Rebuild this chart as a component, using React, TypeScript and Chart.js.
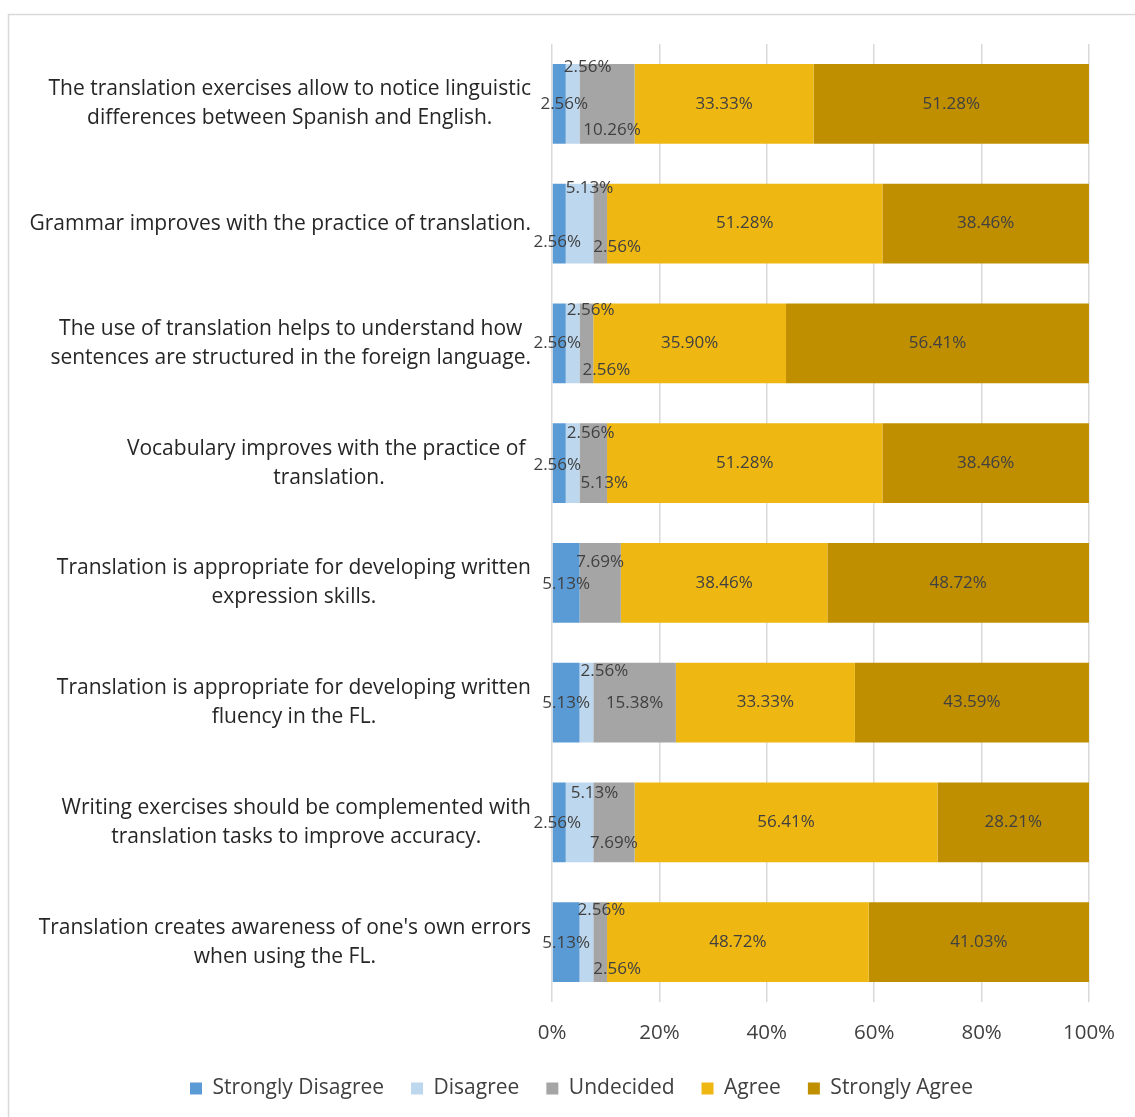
import React, { useEffect, useRef } from "react";
import { Chart, registerables } from "chart.js";

Chart.register(...registerables);

const categories: string[][] = [
  ["The translation exercises allow to notice linguistic", "differences between Spanish and English."],
  ["Grammar improves with the practice of translation."],
  ["The use of translation helps to understand how", "sentences are structured in the foreign language."],
  ["Vocabulary improves with the practice of ", "translation."],
  ["Translation is appropriate for developing written", "expression skills."],
  ["Translation is appropriate for developing written", "fluency in the FL."],
  ["Writing exercises should be complemented with", "translation tasks to improve accuracy."],
  ["Translation creates awareness of one's own errors", "when using the FL."],
];

const seriesNames = ["Strongly Disagree", "Disagree", "Undecided", "Agree", "Strongly Agree"];
const stronglyDisagree = [2.56, 2.56, 2.56, 2.56, 5.13, 5.13, 2.56, 5.13];
const disagree = [2.56, 5.13, 2.56, 2.56, 0, 2.56, 5.13, 2.56];
const undecided = [10.26, 2.56, 2.56, 5.13, 7.69, 15.38, 7.69, 2.56];
const agree = [33.33, 51.28, 35.9, 51.28, 38.46, 33.33, 56.41, 48.72];
const stronglyAgree = [51.28, 38.46, 56.41, 38.46, 48.72, 43.59, 28.21, 41.03];
const xTickValues = [0, 20, 40, 60, 80, 100];

const seriesColors = ["#5B9BD5", "#BDD7EE", "#A5A5A5", "#EFB712", "#BF8F00"];

// label nudges (style only): [series][row] -> [dx, dy] in px
const labelNudges: [number, number][][] = [
  [[5, 0], [-2, 19], [-2, 0], [-2, 2], [0, 1], [0, 1], [-2, 1], [0, 1]],
  [[15, -37], [10, -35], [18, -33], [18, -30], [0, 0], [18, -31], [15, -29], [15, -32]],
  [[5, 26], [17, 24], [20, 27], [11, 20], [0, -21], [0, 1], [0, 21], [17, 27]],
  [[0, 0], [0, 0], [0, 0], [0, 0], [0, 0], [0, 0], [0, 0], [0, 0]],
  [[0, 0], [0, 0], [0, 0], [0, 0], [0, 0], [0, 0], [0, 0], [0, 0]],
];

const FONT = "'Open Sans', 'Noto Sans', sans-serif";

const framePlugin = {
  id: "frame",
  beforeDraw(chart: any) {
    const ctx = chart.ctx;
    ctx.save();
    ctx.fillStyle = "#ffffff";
    ctx.fillRect(0, 0, chart.width, chart.height);
    ctx.strokeStyle = "#D9D9D9";
    ctx.lineWidth = 1.5;
    ctx.strokeRect(8.5, 14.5, chart.width + 20, chart.height + 20);
    ctx.restore();
  },
};

const valueLabelPlugin = {
  id: "valueLabels",
  afterDatasetsDraw(chart: any) {
    const ctx = chart.ctx;
    ctx.save();
    ctx.font = `17px ${FONT}`;
    ctx.fillStyle = "#404040";
    ctx.textAlign = "center";
    ctx.textBaseline = "middle";
    chart.data.datasets.forEach((ds: any, di: number) => {
      const meta = chart.getDatasetMeta(di);
      meta.data.forEach((el: any, i: number) => {
        const v = ds.data[i];
        if (!v) return;
        const cx = (el.x + el.base) / 2;
        const [dx, dy] = labelNudges[di][i];
        ctx.fillText(v.toFixed(2) + "%", cx + dx, el.y + dy);
      });
    });
    ctx.restore();
  },
};

const categoryLabelPlugin = {
  id: "categoryLabels",
  afterDraw(chart: any) {
    const ctx = chart.ctx;
    const yScale = chart.scales.y;
    const right = chart.chartArea.left - 21;
    const lh = 29;
    ctx.save();
    ctx.font = `21px ${FONT}`;
    ctx.fillStyle = "#262626";
    ctx.textAlign = "center";
    ctx.textBaseline = "middle";
    categories.forEach((lines, i) => {
      const cy = yScale.getPixelForValue(i);
      const maxW = Math.max(...lines.map((l) => ctx.measureText(l).width));
      const cx = right - maxW / 2;
      const y0 = cy - ((lines.length - 1) * lh) / 2;
      lines.forEach((l, k) => ctx.fillText(l, cx, y0 + k * lh));
    });
    ctx.restore();
  },
};

export default function App() {
  const ref = useRef<HTMLCanvasElement>(null);
  useEffect(() => {
    const seriesData = [stronglyDisagree, disagree, undecided, agree, stronglyAgree];
    const chart = new Chart(ref.current!, {
      type: "bar",
      data: {
        labels: categories.map((c) => c.join(" ")),
        datasets: seriesNames.map((name, i) => ({
          label: name,
          data: seriesData[i],
          backgroundColor: seriesColors[i],
          borderWidth: 0,
          barPercentage: 1,
          categoryPercentage: 0.667,
        })),
      },
      options: {
        indexAxis: "y",
        responsive: false,
        animation: false,
        devicePixelRatio: 1,
        layout: { padding: { top: 44, left: 74, right: 46, bottom: 8 } },
        scales: {
          x: {
            stacked: true,
            min: 0,
            max: 100,
            afterBuildTicks: (scale: any) => {
              scale.ticks = xTickValues.map((v) => ({ value: v }));
            },
            afterFit: (scale: any) => {
              scale.height = 49;
            },
            ticks: {
              callback: (v: any) => v + "%",
              padding: 19,
              color: "#404040",
              font: { family: FONT, size: 20.5 },
            },
            grid: { color: "#D9D9D9", lineWidth: 1.5, drawTicks: false },
            border: { display: false },
          },
          y: {
            stacked: true,
            afterFit: (scale: any) => {
              scale.width = 478;
            },
            ticks: { display: false },
            grid: { display: false, drawTicks: false },
            border: { display: false },
          },
        },
        plugins: {
          legend: {
            position: "bottom",
            labels: {
              boxWidth: 12,
              boxHeight: 12,
              padding: 27,
              color: "#404040",
              font: { family: FONT, size: 21 },
            },
          },
          tooltip: { enabled: false },
        },
      },
      plugins: [framePlugin, valueLabelPlugin, categoryLabelPlugin],
    } as any);
    return () => chart.destroy();
  }, []);
  return (
    <div style={{ position: "fixed", left: 0, top: 0, width: 1135, height: 1117, background: "#fff" }}>
      <canvas ref={ref} width={1135} height={1117} style={{ display: "block" }} />
    </div>
  );
}
